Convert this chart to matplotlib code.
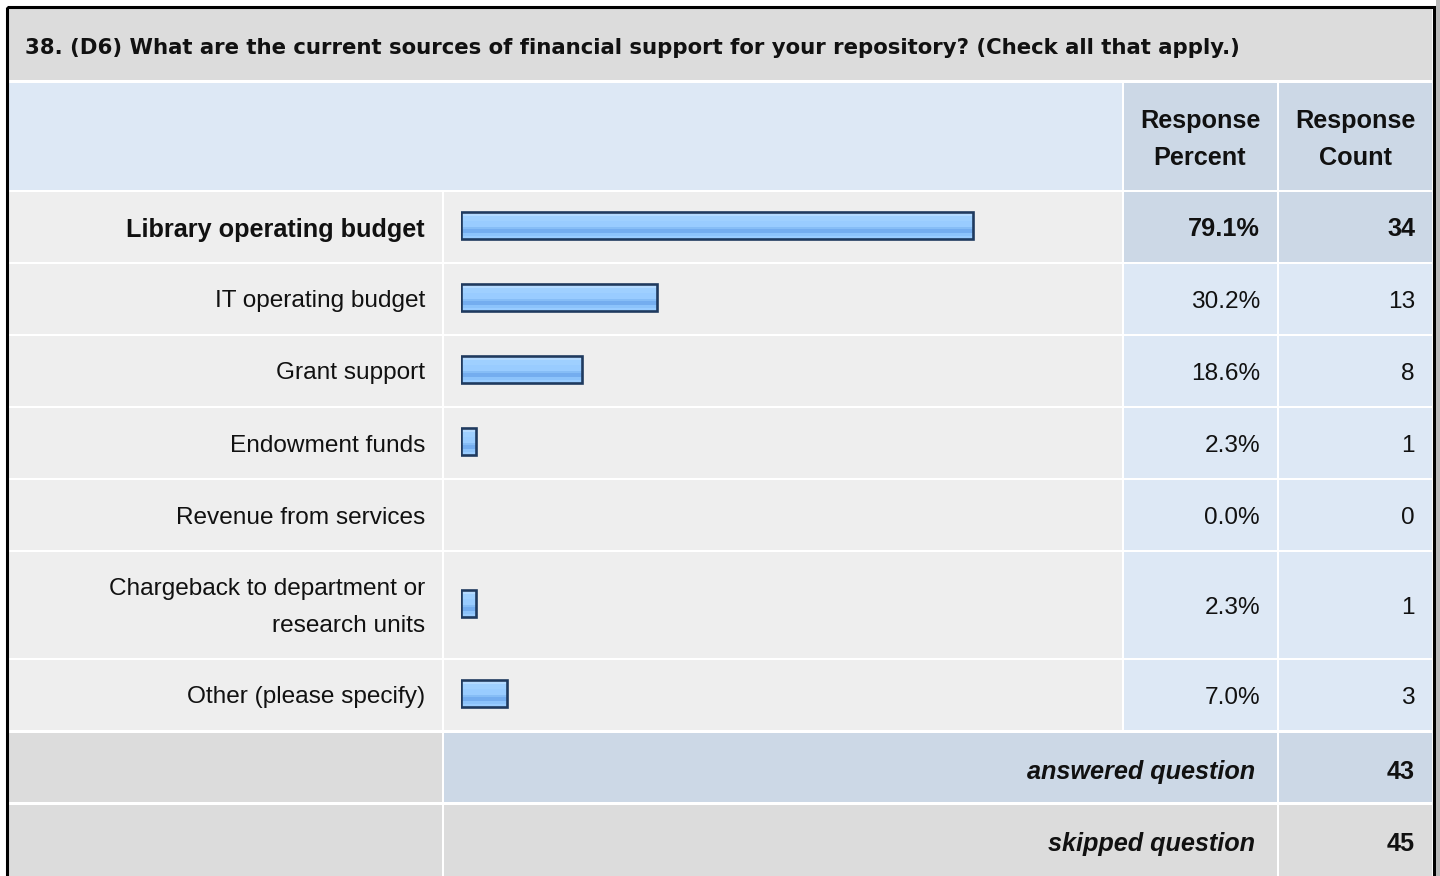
#!/usr/bin/env python
"""Survey results table with horizontal percent bars (question 38, D6)."""

import matplotlib

matplotlib.use("Agg")

import matplotlib.pyplot as plt
import numpy as np
from matplotlib.colors import to_rgb
from matplotlib.patches import Rectangle

plt.rcParams["font.family"] = ["Liberation Sans", "DejaVu Sans"]

TITLE = "38. (D6) What are the current sources of financial support for your repository? (Check all that apply.)"
CATEGORIES = [
    "Library operating budget",
    "IT operating budget",
    "Grant support",
    "Endowment funds",
    "Revenue from services",
    "Chargeback to department or\nresearch units",
    "Other (please specify)",
]
PERCENTS = [79.1, 30.2, 18.6, 2.3, 0.0, 2.3, 7.0]
COUNTS = [34, 13, 8, 1, 0, 1, 3]
ANSWERED = 43
SKIPPED = 45

# layout in pixels (figure is 1440 x 876)
W, H = 1440, 876
ROW_BOUNDS = [(192, 262), (264, 334), (336, 406), (408, 478), (480, 550), (552, 658), (660, 730)]
ANSWER_ROW = (733, 802)
SKIP_ROW = (805, 900)
COL_LABEL = (9, 442)
COL_BAR = (444, 1122)
COL_PCT = (1124, 1277)
COL_CNT = (1279, 1432)

GRAY = "#dcdcdc"
LIGHT = "#eeeeee"
BLUE_LIGHT = "#dde8f5"
BLUE_DARK = "#ccd8e6"
TEXT = "#111111"
FS = 17.6
FS_BOLD = 18.2
FS_TITLE = 15.3
PX_PER_PCT = 6.47


def cell(ax, cols, rows, color):
    ax.add_patch(Rectangle((cols[0], rows[0]), cols[1] - cols[0], rows[1] - rows[0],
                           facecolor=color, edgecolor="none", zorder=1))


def bar_gradient():
    """Vertical stripe colours of the glossy bar, top to bottom."""
    stops = [("#d2e9ff", 2), ("#b4daff", 2), ("#9fd0ff", 5), ("#99ccff", 5),
             ("#86bdf6", 2), ("#74adef", 4), ("#8cc3fb", 3), ("#99ccff", 3)]
    rows = []
    for color, n in stops:
        rows += [to_rgb(color)] * n
    return np.array(rows).reshape(-1, 1, 3)


fig = plt.figure(figsize=(W / 100, H / 100), dpi=100)
ax = fig.add_axes([0, 0, 1, 1])
ax.set_xlim(0, W)
ax.set_ylim(H, 0)
ax.axis("off")

# outer frame
ax.add_patch(Rectangle((6.5, 6.5), 1427, 900, facecolor="none", edgecolor="black", lw=2.2, zorder=5))
ax.add_patch(Rectangle((1436, 0), 4, H, facecolor="#b8b8b8", edgecolor="none", zorder=5))

# title
cell(ax, (9, 1432), (9, 80), GRAY)
ax.text(25, 48, TITLE, fontsize=FS_TITLE, fontweight="bold", color=TEXT, ha="left", va="center",
        family=["DejaVu Sans"], zorder=3)

# header
cell(ax, (9, 1122), (83, 190), BLUE_LIGHT)
cell(ax, COL_PCT, (83, 190), BLUE_DARK)
cell(ax, COL_CNT, (83, 190), BLUE_DARK)
for cx, word in [(1200, "Percent"), (1355, "Count")]:
    ax.text(cx, 121, "Response", fontsize=FS_BOLD, fontweight="bold", ha="center", va="center",
            color=TEXT, zorder=3)
    ax.text(cx, 158, word, fontsize=FS_BOLD, fontweight="bold", ha="center", va="center",
            color=TEXT, zorder=3)

# body rows
centers = []
for i, (label, pct, cnt, rows) in enumerate(zip(CATEGORIES, PERCENTS, COUNTS, ROW_BOUNDS)):
    top_row = i == 0
    cell(ax, COL_LABEL, rows, LIGHT)
    cell(ax, COL_BAR, rows, LIGHT)
    cell(ax, COL_PCT, rows, BLUE_DARK if top_row else BLUE_LIGHT)
    cell(ax, COL_CNT, rows, BLUE_DARK if top_row else BLUE_LIGHT)
    cy = (rows[0] + rows[1]) / 2
    centers.append(cy - 1.5)
    weight = "bold" if top_row else "normal"
    size = FS_BOLD if top_row else FS
    lines = label.split("\n")
    for k, line in enumerate(lines):
        ly = cy + 2.5 + (k - (len(lines) - 1) / 2) * 37
        ax.text(425, ly, line, fontsize=size, fontweight=weight, ha="right", va="center", color=TEXT, zorder=3)
    ax.text(1260, cy + 2.5, f"{pct:.1f}%", fontsize=size, fontweight=weight, ha="right", va="center",
            color=TEXT, zorder=3)
    ax.text(1415, cy + 2.5, f"{cnt}", fontsize=size, fontweight=weight, ha="right", va="center",
            color=TEXT, zorder=3)

# summary rows
cell(ax, COL_LABEL, ANSWER_ROW, GRAY)
cell(ax, (COL_BAR[0], COL_PCT[1]), ANSWER_ROW, BLUE_DARK)
cell(ax, COL_CNT, ANSWER_ROW, BLUE_DARK)
cell(ax, COL_LABEL, SKIP_ROW, GRAY)
cell(ax, (COL_BAR[0], COL_PCT[1]), SKIP_ROW, GRAY)
cell(ax, COL_CNT, SKIP_ROW, GRAY)
for y, name, val in [(772, "answered question", ANSWERED), (844, "skipped question", SKIPPED)]:
    ax.text(1255, y, name, fontsize=FS_BOLD, fontweight="bold", fontstyle="italic", ha="right", va="center",
            color=TEXT, zorder=3)
    ax.text(1415, y, f"{val}", fontsize=FS_BOLD, fontweight="bold", ha="right", va="center",
            color=TEXT, zorder=3)

# bars: x axis in percent, y axis in pixels
bar_left = 461.3
bax = fig.add_axes([bar_left / W, 0, 100 * PX_PER_PCT / W, 1])
bax.set_xlim(0, 100)
bax.set_ylim(H, 0)
bax.axis("off")
pct_arr = np.array(PERCENTS)
ctr_arr = np.array(centers)
mask = pct_arr > 0
bars = bax.barh(ctr_arr[mask], pct_arr[mask], height=27, left=0, facecolor="none",
                edgecolor="#1f3a5f", linewidth=1.9, zorder=4)
grad = bar_gradient()
for patch in bars.patches:
    x0, y0 = patch.get_x(), patch.get_y()
    bax.imshow(grad, extent=(x0, x0 + patch.get_width(), y0 + patch.get_height(), y0),
               aspect="auto", interpolation="nearest", origin="upper", zorder=3)
bax.set_xlim(0, 100)
bax.set_ylim(H, 0)

fig.savefig("out.png", dpi=100)
